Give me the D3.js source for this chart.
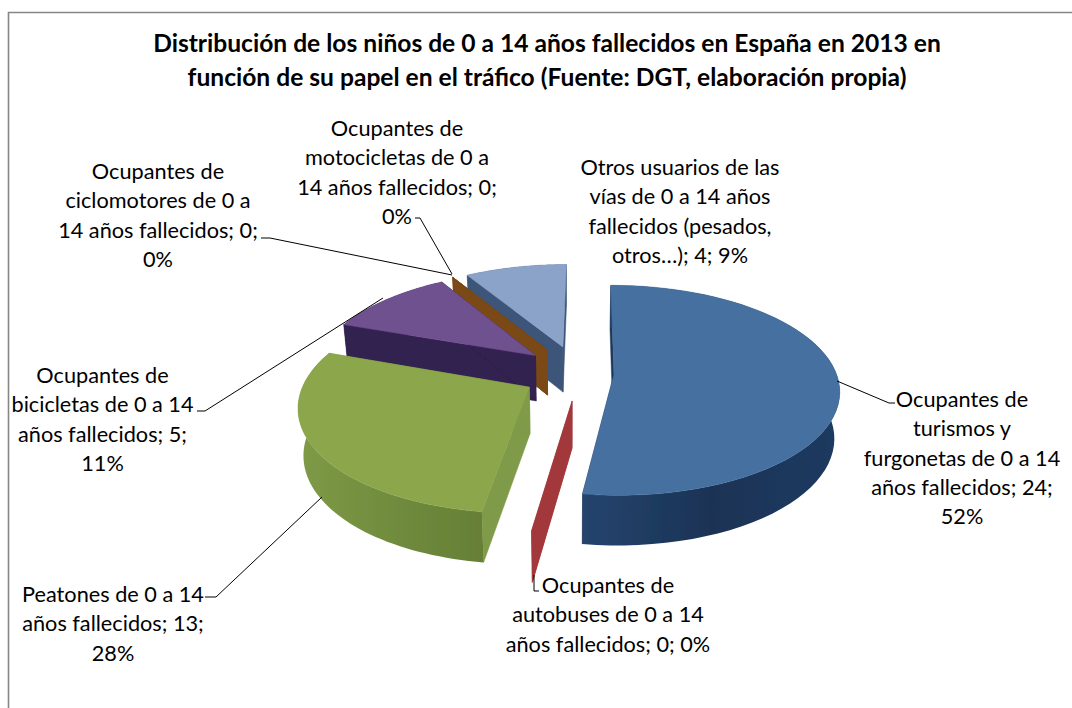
<!DOCTYPE html>
<html><head><meta charset="utf-8">
<script src="https://cdn.jsdelivr.net/npm/d3@7/dist/d3.min.js"></script>
<style>html,body{margin:0;padding:0;background:#fff}svg{display:block}text{font-family:Lato,"Open Sans",sans-serif;fill:#000}</style>
</head><body><svg id="c" width="1072" height="708"></svg>
<script>
// ---- data ----
const categories = ["Ocupantes de turismos y furgonetas","Ocupantes de autobuses","Peatones","Ocupantes de bicicletas","Ocupantes de ciclomotores","Ocupantes de motocicletas","Otros usuarios de las vías"];
const values = [24,0,13,5,0,0,4];
const topColors = ["#44709f","#a2383a","#8ca64c","#70518f","#7a4816","#7a4816","#8ba3c9"];
const sideColors = [["#25446d","#1a3355","#1f3a60"],["#a2383a","#a2383a","#a2383a"],["#7f9a47","#708c3d","#667f36"],["#33204f","#33204f","#33204f"],["#7a4816","#7a4816","#7a4816"],["#7a4816","#7a4816","#7a4816"],["#3d5578","#3d5578","#3d5578"]];
const wallColors = ["#1c3558","#a2383a","#7f9a48","#33204f","#7a4816","#7a4816","#3d5578"];
const titleLines = ["Distribución de los niños de 0 a 14 años fallecidos en España en 2013 en","función de su papel en el tráfico (Fuente: DGT, elaboración propia)"];
const labelLines = [
 ["Ocupantes de","turismos y","furgonetas de 0 a 14","años fallecidos; 24;","52%"],
 ["Ocupantes de","autobuses de 0 a 14","años fallecidos; 0; 0%"],
 ["Peatones de 0 a 14","años fallecidos; 13;","28%"],
 ["Ocupantes de","bicicletas de 0 a 14","años fallecidos; 5;","11%"],
 ["Ocupantes de","ciclomotores de 0 a","14 años fallecidos; 0;","0%"],
 ["Ocupantes de","motocicletas de 0 a","14 años fallecidos; 0;","0%"],
 ["Otros usuarios de las","vías de 0 a 14 años","fallecidos (pesados,","otros…); 4; 9%"]
];
// ---- layout ----
const labelAnchors = [[962,407],[608,593],[113,602],[102.5,383],[158,179],[397,136],[680,175]];
const leaders = [
 [[837,381],[889,403],[895,403]],
 [[534,575],[534,591],[539,591]],
 [[322,497],[216,597],[205,597]],
 [[383,298],[205,411],[197,411]],
 [[452,275],[270,238],[261,238]],
 [[452,274],[420,218],[415,218]]
];
const sliceNudge = [0,10,0,0,0,0,5];
const R=222, EX=45, EZ=60, D=1470, CX=569, CY=372.5, VX=590, HY=-303, LINE=29.3;

const svg=d3.select("#c");
svg.append("path").attr("d","M8.5,708V12.5H1072").attr("fill","none").attr("stroke","#868686").attr("stroke-width",1.6);
const defs=svg.append("defs");
defs.append("filter").attr("id","soft").append("feGaussianBlur").attr("stdDeviation",0.5);
sideColors.forEach((cs,i)=>{
  const lg=defs.append("linearGradient").attr("id","side"+i);
  cs.forEach((c,k)=>lg.append("stop").attr("offset",k/(cs.length-1)).attr("stop-color",c));
});

const pie=d3.pie().sort(null).value(d=>d).startAngle(0).endAngle(2*Math.PI);
const arcs=pie(values);

function projector(i,bis){
  const ex=EX*Math.sin(bis)+sliceNudge[i], ez=-EZ*Math.cos(bis);
  return function(a,r,down){
    const X=r*Math.sin(a)+ex, Z=-r*Math.cos(a)+ez;
    const w=1-Z/D;
    let x=VX+(CX-VX+X)/w, y=HY+(CY-HY)/w;
    if(down){
      y+=46*(1+(1/w-1)*0.5);
      x+=(CX-x)*0.02;
    }
    return [x,y];
  };
}
const line=d3.line();
const g=svg.append("g").attr("filter","url(#soft)");

// painter's order: from the back of the pie to the front
const drawOrder=[6,5,4,3,2,1,0];
drawOrder.forEach(i=>{
  const s=arcs[i], bis=(s.startAngle+s.endAngle)/2, P=projector(i,bis);
  const steps=d3.range(0,61).map(k=>s.startAngle+(s.endAngle-s.startAngle)*k/60);
  const rim=steps.map(a=>P(a,R,false));
  const rimB=steps.map(a=>P(a,R,true));
  const wall=a=>[P(a,0,false),P(a,R,false),P(a,R,true),P(a,0,true)];
  // radial walls
  [s.startAngle,s.endAngle].forEach(a=>{
    g.append("path").attr("d",line(wall(a))+"Z").attr("fill",wallColors[i]).attr("stroke",wallColors[i]).attr("stroke-width",0.5);
  });
  if(s.value===0) return;
  // outer side
  g.append("path").attr("d",line(rim.concat(rimB.slice().reverse()))+"Z").attr("fill","url(#side"+i+")");
  // top face
  const top=[P(s.startAngle,0,false)].concat(rim);
  g.append("path").attr("d",line(top)+"Z").attr("fill",topColors[i]).attr("stroke",topColors[i]).attr("stroke-width",0.5);
});

// leader lines
leaders.forEach(l=>svg.append("path").attr("d",line(l)).attr("fill","none").attr("stroke","#000").attr("stroke-width",1));

// labels
labelLines.forEach((ls,i)=>{
  ls.forEach((t,k)=>{
    svg.append("text").attr("x",labelAnchors[i][0]).attr("y",labelAnchors[i][1]+k*LINE)
      .attr("text-anchor","middle").attr("font-size",21.7).text(t);
  });
});
titleLines.forEach((t,k)=>{
  svg.append("text").attr("x",547).attr("y",52+k*34).attr("text-anchor","middle")
    .attr("font-size",24.6).attr("font-weight",700).text(t);
});
</script></body></html>
